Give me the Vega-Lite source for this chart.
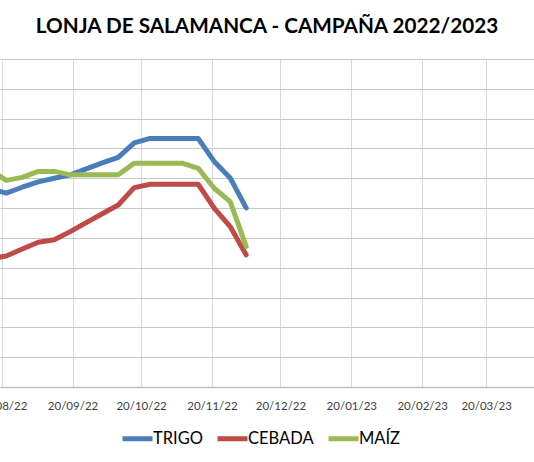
{
  "$schema": "https://vega.github.io/schema/vega-lite/v6.json",
  "width": 534,
  "height": 328,
  "autosize": {"type": "none"},
  "padding": {"top": 59, "left": 0, "right": 0, "bottom": 75},
  "background": "white",
  "title": {
    "text": "LONJA DE SALAMANCA - CAMPAÑA 2022/2023",
    "font": "Lato",
    "fontSize": 20.7,
    "fontWeight": "bold",
    "color": "#000000",
    "anchor": "middle",
    "offset": 21
  },
  "data": {
    "values": [
      {"fecha": "2022-08-15", "serie": "TRIGO", "precio": 313},
      {"fecha": "2022-08-22", "serie": "TRIGO", "precio": 310},
      {"fecha": "2022-08-29", "serie": "TRIGO", "precio": 314},
      {"fecha": "2022-09-05", "serie": "TRIGO", "precio": 317.6},
      {"fecha": "2022-09-12", "serie": "TRIGO", "precio": 320},
      {"fecha": "2022-09-19", "serie": "TRIGO", "precio": 322.3},
      {"fecha": "2022-09-26", "serie": "TRIGO", "precio": 326.3},
      {"fecha": "2022-10-03", "serie": "TRIGO", "precio": 330.3},
      {"fecha": "2022-10-10", "serie": "TRIGO", "precio": 334},
      {"fecha": "2022-10-17", "serie": "TRIGO", "precio": 343.7},
      {"fecha": "2022-10-24", "serie": "TRIGO", "precio": 346.7},
      {"fecha": "2022-10-31", "serie": "TRIGO", "precio": 346.7},
      {"fecha": "2022-11-07", "serie": "TRIGO", "precio": 346.7},
      {"fecha": "2022-11-14", "serie": "TRIGO", "precio": 346.7},
      {"fecha": "2022-11-21", "serie": "TRIGO", "precio": 331.3},
      {"fecha": "2022-11-28", "serie": "TRIGO", "precio": 320.2},
      {"fecha": "2022-12-05", "serie": "TRIGO", "precio": 300.1},
      {"fecha": "2022-08-15", "serie": "CEBADA", "precio": 265.9},
      {"fecha": "2022-08-22", "serie": "CEBADA", "precio": 267.9},
      {"fecha": "2022-08-29", "serie": "CEBADA", "precio": 272.6},
      {"fecha": "2022-09-05", "serie": "CEBADA", "precio": 277.1},
      {"fecha": "2022-09-12", "serie": "CEBADA", "precio": 278.7},
      {"fecha": "2022-09-19", "serie": "CEBADA", "precio": 284.2},
      {"fecha": "2022-09-26", "serie": "CEBADA", "precio": 290.3},
      {"fecha": "2022-10-03", "serie": "CEBADA", "precio": 296.2},
      {"fecha": "2022-10-10", "serie": "CEBADA", "precio": 302.1},
      {"fecha": "2022-10-17", "serie": "CEBADA", "precio": 313.7},
      {"fecha": "2022-10-24", "serie": "CEBADA", "precio": 316},
      {"fecha": "2022-10-31", "serie": "CEBADA", "precio": 316},
      {"fecha": "2022-11-07", "serie": "CEBADA", "precio": 316},
      {"fecha": "2022-11-14", "serie": "CEBADA", "precio": 316},
      {"fecha": "2022-11-21", "serie": "CEBADA", "precio": 300},
      {"fecha": "2022-11-28", "serie": "CEBADA", "precio": 287.6},
      {"fecha": "2022-12-05", "serie": "CEBADA", "precio": 268.6},
      {"fecha": "2022-08-15", "serie": "MAÍZ", "precio": 325.6},
      {"fecha": "2022-08-22", "serie": "MAÍZ", "precio": 318.6},
      {"fecha": "2022-08-29", "serie": "MAÍZ", "precio": 320.6},
      {"fecha": "2022-09-05", "serie": "MAÍZ", "precio": 324.6},
      {"fecha": "2022-09-12", "serie": "MAÍZ", "precio": 324.6},
      {"fecha": "2022-09-19", "serie": "MAÍZ", "precio": 322.3},
      {"fecha": "2022-09-26", "serie": "MAÍZ", "precio": 322.3},
      {"fecha": "2022-10-03", "serie": "MAÍZ", "precio": 322.3},
      {"fecha": "2022-10-10", "serie": "MAÍZ", "precio": 322.3},
      {"fecha": "2022-10-17", "serie": "MAÍZ", "precio": 330.1},
      {"fecha": "2022-10-24", "serie": "MAÍZ", "precio": 330.1},
      {"fecha": "2022-10-31", "serie": "MAÍZ", "precio": 330.1},
      {"fecha": "2022-11-07", "serie": "MAÍZ", "precio": 330.1},
      {"fecha": "2022-11-14", "serie": "MAÍZ", "precio": 326.7},
      {"fecha": "2022-11-21", "serie": "MAÍZ", "precio": 313.3},
      {"fecha": "2022-11-28", "serie": "MAÍZ", "precio": 304.3},
      {"fecha": "2022-12-05", "serie": "MAÍZ", "precio": 274.3}
    ]
  },
  "mark": {"type": "line", "strokeWidth": 5, "strokeCap": "round", "strokeJoin": "round"},
  "encoding": {
    "x": {
      "field": "fecha",
      "type": "temporal",
      "scale": {
        "type": "utc",
        "domain": [
          {"year": 2022, "month": 8, "date": 19, "hours": 6, "minutes": 10, "utc": true},
          {"year": 2023, "month": 4, "date": 9, "hours": 23, "utc": true}
        ]
      },
      "axis": {
        "title": null,
        "format": "%d/%m/%y",
        "values": [
          {"year": 2022, "month": 8, "date": 20, "utc": true},
          {"year": 2022, "month": 9, "date": 20, "utc": true},
          {"year": 2022, "month": 10, "date": 20, "utc": true},
          {"year": 2022, "month": 11, "date": 20, "utc": true},
          {"year": 2022, "month": 12, "date": 20, "utc": true},
          {"year": 2023, "month": 1, "date": 20, "utc": true},
          {"year": 2023, "month": 2, "date": 20, "utc": true},
          {"year": 2023, "month": 3, "date": 20, "utc": true},
          {"year": 2023, "month": 4, "date": 20, "utc": true}
        ],
        "labelFlush": false,
        "labelOverlap": false,
        "labelFont": "Lato",
        "labelFontSize": 11.5,
        "labelColor": "#404040",
        "labelPadding": 13,
        "ticks": false,
        "grid": true,
        "gridColor": "#d9d9d9",
        "gridWidth": 1,
        "domainColor": "#bfbfbf",
        "domainWidth": 1.5
      }
    },
    "y": {
      "field": "precio",
      "type": "quantitative",
      "scale": {"domain": [180, 400], "nice": false, "zero": false},
      "axis": {
        "title": null,
        "labels": false,
        "ticks": false,
        "domain": false,
        "grid": true,
        "gridColor": "#c8c8c8",
        "gridWidth": 1,
        "values": [180, 200, 220, 240, 260, 280, 300, 320, 340, 360, 380, 400]
      }
    },
    "color": {
      "field": "serie",
      "type": "nominal",
      "sort": ["TRIGO", "CEBADA", "MAÍZ"],
      "scale": {
        "domain": ["TRIGO", "CEBADA", "MAÍZ"],
        "range": ["#4a7ebb", "#be4b48", "#98b954"]
      },
      "legend": {
        "title": null,
        "orient": "none",
        "direction": "horizontal",
        "legendX": 120,
        "legendY": 362,
        "symbolType": "stroke",
        "symbolStrokeWidth": 5,
        "symbolSize": 900,
        "labelFont": "Lato",
        "labelFontSize": 16.5,
        "labelColor": "#000000",
        "labelOffset": -2,
        "columnPadding": 4
      }
    }
  },
  "config": {
    "view": {"stroke": null}
  }
}
